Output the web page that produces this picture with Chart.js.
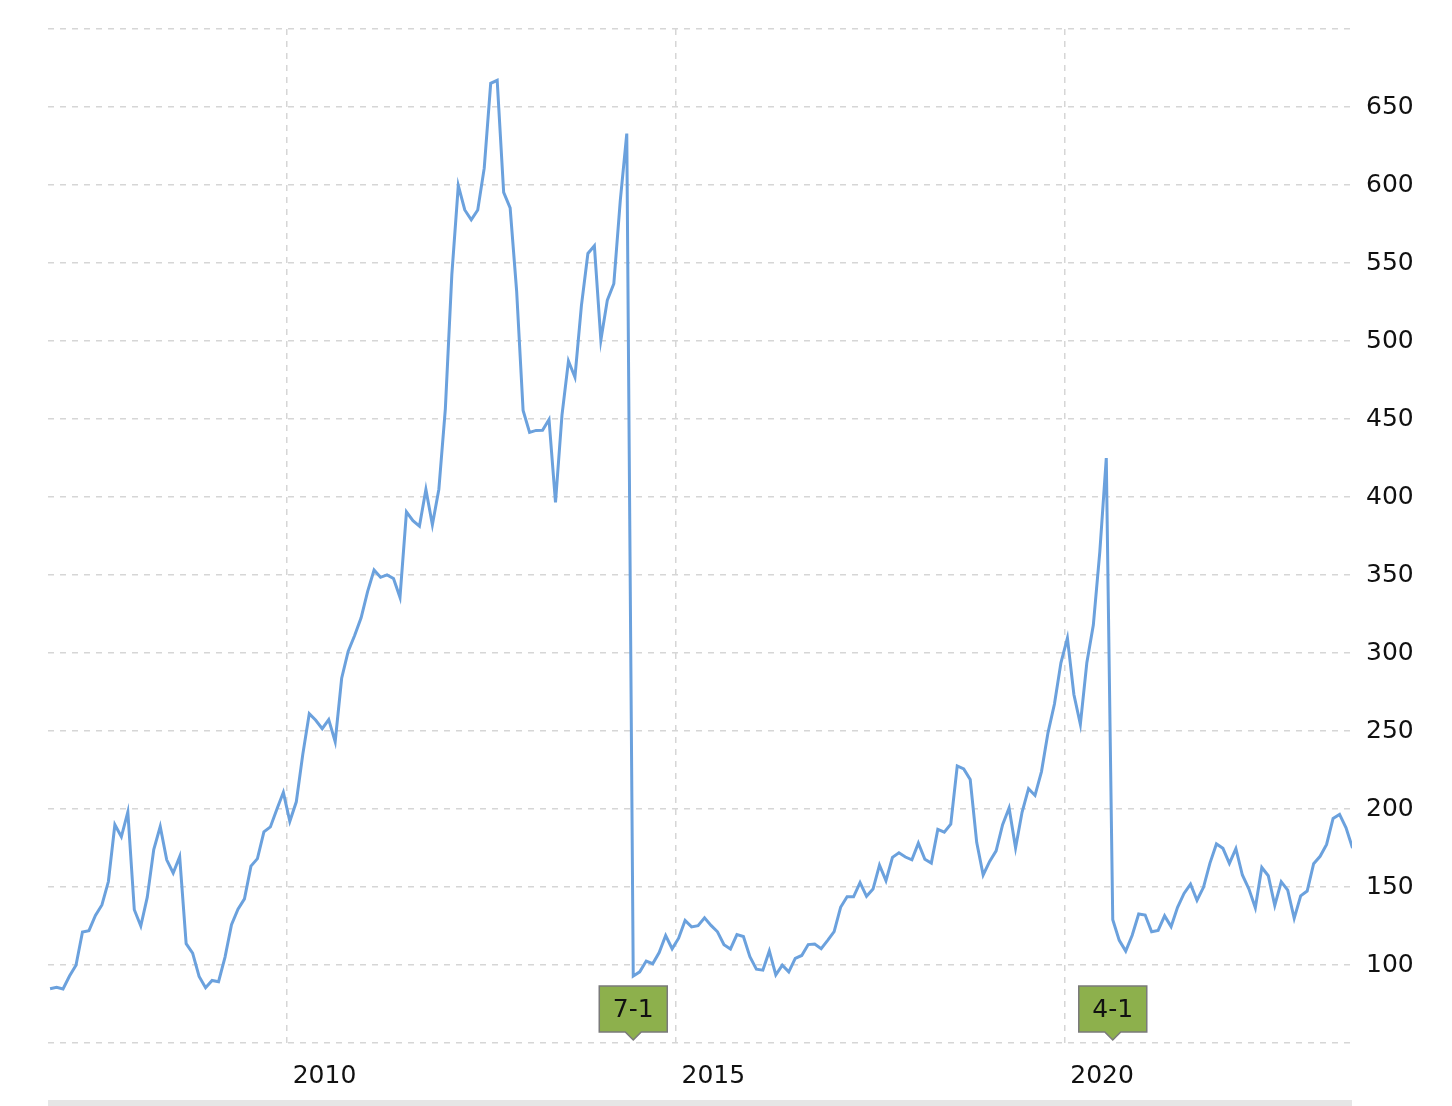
<!DOCTYPE html>
<html>
<head>
<meta charset="utf-8">
<script src="https://cdn.jsdelivr.net/npm/chart.js@4"></script>
<style>
  html, body { margin: 0; padding: 0; background: #fff; }
  #wrap { width: 1452px; height: 1106px; position: relative; }
  #bar { position: absolute; left: 48px; top: 1100px; width: 1304px; height: 6px; background: #e6e6e6; }
</style>
</head>
<body>
<div id="wrap"><canvas id="c"></canvas><div id="bar"></div></div>
<script>
// monthly closes, Dec 2006 .. Sep 2023
const startYear = 2006 + 11 / 12;
const prices = [
  84.8,
  85.7, 84.6, 92.9, 99.8, 121.2, 122.0, 131.8, 138.5, 153.5, 189.9, 182.2, 198.1,
  135.4, 125.0, 143.5, 174.0, 188.8, 167.4, 159.0, 169.5, 113.7, 107.6, 92.7, 85.4,
  90.1, 89.3, 105.1, 125.8, 135.8, 142.4, 163.4, 168.2, 185.4, 188.5, 199.9, 210.7,
  192.1, 204.6, 235.0, 261.1, 256.9, 251.5, 257.3, 243.1, 283.8, 301.0, 311.2, 322.6,
  339.3, 353.2, 348.5, 350.1, 347.8, 335.7, 390.5, 384.8, 381.3, 404.8, 382.2, 405.0,
  456.5, 542.4, 599.6, 584.0, 577.7, 584.0, 610.8, 665.2, 667.1, 595.3, 585.3, 532.2,
  455.5, 441.4, 442.7, 442.8, 449.7, 396.5, 452.5, 487.2, 476.8, 522.7, 556.1, 561.0,
  500.6, 526.2, 536.7, 590.1, 633.0, 92.9, 95.6, 102.5, 100.8, 108.0, 118.9, 110.4,
  117.2, 128.5, 124.4, 125.2, 130.3, 125.4, 121.3, 113.0, 110.3, 119.5, 118.3, 105.3,
  97.3, 96.7, 109.0, 93.7, 99.9, 95.6, 104.2, 106.1, 113.1, 113.5, 110.5, 115.8,
  121.4, 137.0, 143.7, 143.7, 152.8, 144.0, 148.7, 164.0, 154.1, 169.0, 171.9, 169.2,
  167.4, 178.1, 167.8, 165.3, 186.9, 185.1, 190.3, 227.6, 225.7, 218.9, 178.6, 157.7,
  166.4, 173.2, 190.0, 200.7, 175.1, 197.9, 213.0, 208.7, 224.0, 248.8, 267.3, 293.7,
  309.5, 273.4, 254.3, 293.8, 317.9, 364.8, 425.0, 129.0, 115.8, 108.9, 119.1, 132.7,
  132.0, 121.3, 122.2, 131.5, 124.6, 137.0, 145.9, 151.8, 141.5, 149.8, 165.3, 177.6,
  174.8, 165.1, 174.6, 157.7, 148.8, 136.7, 162.5, 157.2, 138.2, 153.3, 148.0, 129.9,
  144.3, 147.4, 164.9, 169.7, 177.3, 194.0, 196.5, 187.9, 175.0
];
const xTicks = [2010, 2015, 2020];
const splitLabels = ['7-1', '4-1'];
const splitIndex = [90, 164]; // Jun 2014, Aug 2020

const points = prices.map((v, i) => ({ x: startYear + i / 12 + 0.04, y: v }));

const splitMarkers = {
  id: 'splitMarkers',
  afterDatasetsDraw(chart) {
    const ctx = chart.ctx, xs = chart.scales.x;
    ctx.save();
    splitLabels.forEach((lab, k) => {
      const cx = xs.getPixelForValue(points[splitIndex[k]].x);
      const w = 68, h = 46, top = 986;
      ctx.beginPath();
      ctx.moveTo(cx - w / 2, top);
      ctx.lineTo(cx + w / 2, top);
      ctx.lineTo(cx + w / 2, top + h);
      ctx.lineTo(cx + 8, top + h);
      ctx.lineTo(cx, top + h + 8);
      ctx.lineTo(cx - 8, top + h);
      ctx.lineTo(cx - w / 2, top + h);
      ctx.closePath();
      ctx.fillStyle = '#8db04c';
      ctx.fill();
      ctx.strokeStyle = '#7a7a7a';
      ctx.lineWidth = 1.5;
      ctx.stroke();
      ctx.fillStyle = '#111';
      ctx.font = '25px "DejaVu Sans"';
      ctx.textAlign = 'center';
      ctx.textBaseline = 'middle';
      ctx.fillText(lab, cx, top + h / 2 + 1);
    });
    ctx.restore();
  }
};

new Chart(document.getElementById('c'), {
  type: 'line',
  data: {
    datasets: [{
      data: points,
      borderColor: '#6ba1dd',
      borderWidth: 3,
      pointRadius: 0,
      tension: 0,
      fill: false
    }]
  },
  options: {
    responsive: true,
    maintainAspectRatio: false,
    animation: false,
    layout: { padding: { left: 48, top: 24, right: 0, bottom: 0 } },
    plugins: { legend: { display: false }, tooltip: { enabled: false } },
    scales: {
      x: {
        type: 'linear',
        min: 2006.93,
        max: 2023.7,
        afterBuildTicks: (s) => { s.ticks = xTicks.map(v => ({ value: v })); },
        afterFit: (s) => { s.height = 63; },
        grid: { color: '#d6d6d6', lineWidth: 1.5, tickLength: 0, drawTicks: false },
        border: { display: false, dash: [6, 6] },
        ticks: {
          color: '#111', font: { size: 25, family: 'DejaVu Sans' }, padding: 18,
          align: 'start', labelOffset: 6, maxRotation: 0,
          callback: v => String(v)
        }
      },
      y: {
        position: 'right',
        min: 50,
        max: 700,
        afterFit: (s) => { s.width = 100; },
        grid: { color: '#d6d6d6', lineWidth: 1.5, drawTicks: false },
        border: { display: false, dash: [6, 6] },
        ticks: {
          stepSize: 50,
          color: '#111',
          font: { size: 25, family: 'DejaVu Sans' },
          padding: 14,
          callback: v => (v === 50 || v === 700) ? '' : String(v)
        }
      }
    }
  },
  plugins: [splitMarkers]
});
</script>
</body>
</html>
